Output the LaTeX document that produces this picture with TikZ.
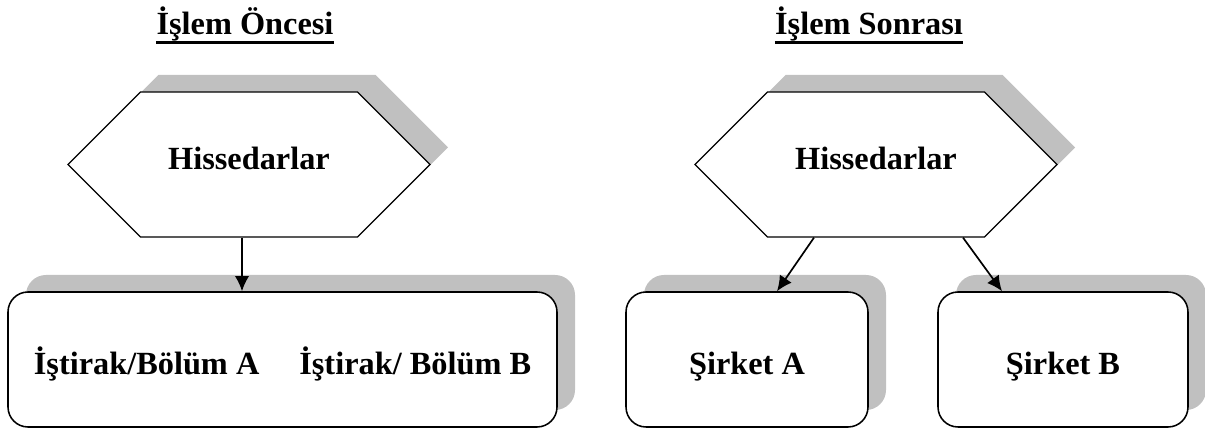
\documentclass[tikz,border=0pt]{standalone}
\usepackage{fontspec}
\setmainfont{Liberation Serif}
\usepackage{tikz}
\usetikzlibrary{shapes.symbols, shadows, arrows.meta, positioning, calc}
\definecolor{shadowgray}{RGB}{192,192,192}

\begin{document}
\begin{tikzpicture}[
  font=\fontsize{23pt}{27pt}\selectfont\bfseries,
  hexbox/.style={draw, signal, signal to=west and east, signal pointer angle=90, line width=0.9pt, fill=white,
    minimum width=9.05cm, minimum height=3.625cm, inner sep=0pt, text height=0.5cm, text depth=0.225cm,
    general shadow={fill=shadowgray, shadow xshift=0.45cm, shadow yshift=0.425cm}},
  unitbox/.style={draw, rectangle, rounded corners=0.5cm, line width=1.1pt, fill=white,
    minimum height=3.375cm, inner sep=0pt, text height=0.775cm, text depth=0pt,
    general shadow={fill=shadowgray, shadow xshift=0.45cm, shadow yshift=0.425cm}},
  link/.style={-{Latex[length=0.38cm, width=0.36cm]}, line width=1.2pt}
]
\useasboundingbox (0,0) rectangle (30.125,-10.75);

% Titles
\node[inner sep=0pt, anchor=base] (titleL) at (6.125,-0.875) {İşlem Öncesi};
\node[inner sep=0pt, anchor=base] (titleR) at (21.725,-0.875) {İşlem Sonrası};
\draw[line width=2.4pt] ([yshift=-0.19cm]titleL.base west) -- ([yshift=-0.19cm]titleL.base east);
\draw[line width=2.4pt] ([yshift=-0.19cm]titleR.base west) -- ([yshift=-0.19cm]titleR.base east);

% Before
\node[hexbox] (hexL) at (6.225,-4.1125) {Hissedarlar};
\node[unitbox, minimum width=13.725cm] (boxL) at (7.0625,-8.9875) {İştirak/Bölüm A\hspace{1.0cm}İştirak/ Bölüm B};
\draw[link] ([xshift=-0.175cm]hexL.south) -- ([xshift=-0.175cm]hexL.south |- boxL.north);

% After
\node[hexbox] (hexR) at (21.9,-4.1125) {Hissedarlar};
\node[unitbox, minimum width=6.05cm] (boxA) at (18.675,-8.9875) {Şirket A};
\node[unitbox, minimum width=6.25cm] (boxB) at (26.575,-8.9875) {Şirket B};
\draw[link] ([xshift=-1.55cm]hexR.south) -- ([xshift=0.75cm]boxA.north);
\draw[link] ([xshift=2.175cm]hexR.south) -- ([xshift=-1.525cm]boxB.north);
\end{tikzpicture}
\end{document}
